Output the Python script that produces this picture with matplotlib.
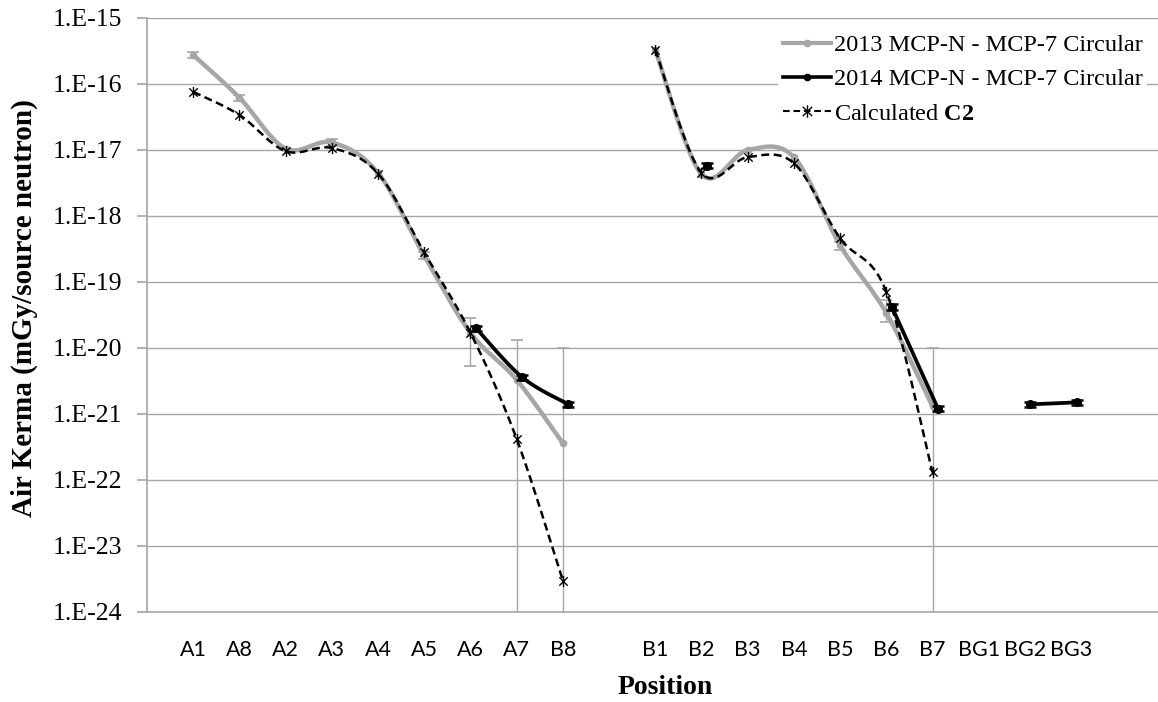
import numpy as np
import matplotlib
matplotlib.use('Agg')
import matplotlib.pyplot as plt
from matplotlib.path import Path

# positions along the category axis (blank slots separate the groups)
positions = ['', 'A1', 'A8', 'A2', 'A3', 'A4', 'A5', 'A6', 'A7', 'B8', '',
             'B1', 'B2', 'B3', 'B4', 'B5', 'B6', 'B7', 'BG1', 'BG2', 'BG3']

# air kerma, mGy per source neutron
mcp_2013 = [None, 2.75e-16, 6.2e-17, 1.05e-17, 1.3e-17, 4.5e-18, 2.5e-19, 1.7e-20, 3.3e-21, 3.6e-22, None,
            3.3e-16, 4.3e-18, 1.0e-17, 7.8e-18, 3.6e-19, 3.4e-20, 1.3e-21, None, None, None]
mcp_2013_lo = [None, 2.5e-16, 5.6e-17, None, 1.15e-17, None, 2.2e-19, 5.4e-21, 0, 0, None,
               None, None, None, None, 3.1e-19, 2.5e-20, 0, None, None, None]
mcp_2013_hi = [None, 3.05e-16, 6.8e-17, None, 1.45e-17, None, 2.8e-19, 2.8e-20, 1.3e-20, 1.0e-20, None,
               None, None, None, None, 4.1e-19, 5.4e-20, 1.0e-20, None, None, None]

mcp_2014 = [None, None, None, None, None, None, None, 2.0e-20, 3.6e-21, 1.4e-21, None,
            None, 5.8e-18, None, None, None, 4.2e-20, 1.2e-21, None, 1.4e-21, 1.5e-21]
mcp_2014_err = 0.09  # relative

calc_c2 = [None, 7.6e-17, 3.4e-17, 9.6e-18, 1.07e-17, 4.4e-18, 2.8e-19, 1.7e-20, 4.2e-22, 3.0e-24, None,
           3.3e-16, 4.5e-18, 7.8e-18, 6.3e-18, 4.6e-19, 7.1e-20, 1.3e-22, None, None, None]

ytick_vals = [10.0 ** e for e in range(-24, -14)]
ytick_labels = ['1.E%d' % e for e in range(-24, -14)]

GRAY = '#a6a6a6'
SERIF = 'Liberation Serif'
plt.rcParams['mathtext.fontset'] = 'custom'
plt.rcParams['mathtext.bf'] = 'Liberation Serif:bold'
plt.rcParams['mathtext.rm'] = 'Liberation Serif'


def runs(vals, offset=0.0):
    """Split a list with gaps into contiguous (x, y) runs."""
    out, cur = [], []
    for i, v in enumerate(vals):
        if v is None:
            if cur:
                out.append(cur)
            cur = []
        else:
            cur.append((i + offset, v))
    if cur:
        out.append(cur)
    return out


def smooth(run, n=24):
    """Bezier smoothing like a spreadsheet 'smoothed line', done in log space."""
    x = np.array([p[0] for p in run], float)
    y = np.log10([p[1] for p in run])
    if len(x) < 2:
        return x, 10 ** y
    px, py = [x[0]], [y[0]]
    t = np.linspace(0, 1, n)[1:]
    for i in range(len(x) - 1):
        i0 = max(i - 1, 0)
        i3 = min(i + 2, len(x) - 1)
        c1x = x[i] + (x[i + 1] - x[i0]) / 6
        c1y = y[i] + (y[i + 1] - y[i0]) / 6
        c2x = x[i + 1] - (x[i3] - x[i]) / 6
        c2y = y[i + 1] - (y[i3] - y[i]) / 6
        bx = (1 - t) ** 3 * x[i] + 3 * (1 - t) ** 2 * t * c1x + 3 * (1 - t) * t ** 2 * c2x + t ** 3 * x[i + 1]
        by = (1 - t) ** 3 * y[i] + 3 * (1 - t) ** 2 * t * c1y + 3 * (1 - t) * t ** 2 * c2y + t ** 3 * y[i + 1]
        px.extend(bx)
        py.extend(by)
    return np.array(px), 10 ** np.array(py)


star = Path([(0, -1), (0, 1), (-0.75, -0.75), (0.75, 0.75), (-0.75, 0.75), (0.75, -0.75)],
            [Path.MOVETO, Path.LINETO] * 3)

fig = plt.figure(figsize=(11.58, 7.02), dpi=100)
ax = fig.add_axes([147 / 1158, 90 / 702, 1011 / 1158, 594 / 702])
ax.set_yscale('log')
ax.set_ylim(1e-24, 1e-15)
ax.set_xlim(0, 21.88)

# horizontal grid
for v in ytick_vals[1:]:
    ax.axhline(v, color=GRAY, lw=1.0, zorder=0)

# 2013 error bars
ex, ey, elo, ehi = [], [], [], []
for i, v in enumerate(mcp_2013):
    if v is None or mcp_2013_hi[i] is None:
        continue
    lo = mcp_2013_lo[i] if mcp_2013_lo[i] else 1e-30
    ex.append(i)
    ey.append(v)
    elo.append(v - lo)
    ehi.append(mcp_2013_hi[i] - v)
ax.errorbar(ex, ey, yerr=[elo, ehi], fmt='none', ecolor=GRAY, elinewidth=1.0,
            capsize=4, capthick=1.2, zorder=1)

# 2013 measurement
for r in runs(mcp_2013):
    sx, sy = smooth(r)
    ax.plot(sx, sy, color=GRAY, lw=3.2, solid_capstyle='round', zorder=2)
    ax.plot([p[0] for p in r], [p[1] for p in r], 'o', color=GRAY, ms=4.5, zorder=2)

# 2014 measurement, drawn slightly right of the category centre
off = 0.12
bx = [i + off for i, v in enumerate(mcp_2014) if v is not None]
by = [v for v in mcp_2014 if v is not None]
ax.errorbar(bx, by, yerr=[[v * mcp_2014_err for v in by], [v * mcp_2014_err for v in by]],
            fmt='none', ecolor='black', elinewidth=1.5, capsize=4, capthick=1.8, zorder=3)
for r in runs(mcp_2014, off):
    sx, sy = smooth(r)
    ax.plot(sx, sy, color='black', lw=2.7, zorder=3)
    ax.plot([p[0] for p in r], [p[1] for p in r], 'o', color='black', ms=5.5, zorder=3)

# calculated C2
for r in runs(calc_c2):
    sx, sy = smooth(r)
    ax.plot(sx, sy, color='black', lw=1.8, dashes=(3.2, 1.8), zorder=4)
    ax.plot([p[0] for p in r], [p[1] for p in r], ls='none', marker=star, color='black',
            mfc='none', mec='black', mew=1.0, ms=8, zorder=4)

# legend handles
h1, = ax.plot([], [], color=GRAY, lw=3.0, marker='o', ms=4.5)
h2, = ax.plot([], [], color='black', lw=2.6, marker='o', ms=4.5)
h3, = ax.plot([], [], color='black', lw=1.5, dashes=(3.2, 1.8), marker=star, mfc='none', mec='black', mew=1.0, ms=9)
leg = fig.legend([h1, h2, h3],
                 ['2013 MCP-N - MCP-7 Circular', '2014 MCP-N - MCP-7 Circular', r'Calculated $\mathbf{C2}$'],
                 loc='upper right', bbox_to_anchor=(0.995, 0.965), frameon=True, fancybox=False,
                 framealpha=1, edgecolor='none', facecolor='white', borderpad=0.2,
                 handlelength=2.0, handletextpad=0.1, labelspacing=0.5, borderaxespad=0.2,
                 prop={'family': SERIF, 'size': 17.5})
leg.set_zorder(5)

# axes styling
for s in ['top', 'right']:
    ax.spines[s].set_visible(False)
for s in ['left', 'bottom']:
    ax.spines[s].set_color(GRAY)
    ax.spines[s].set_linewidth(1.2)

ax.set_yticks(ytick_vals)
ax.set_yticklabels(ytick_labels, family=SERIF, fontsize=18.5)
ax.yaxis.set_minor_locator(matplotlib.ticker.NullLocator())
ax.tick_params(axis='y', which='major', length=7, width=1.2, color=GRAY, pad=11)

ax.set_xticks(range(len(positions)))
ax.set_xticklabels(positions, family='Lato', fontsize=15.5)
ax.set_xticks(range(0, len(positions), 2), minor=True)
ax.tick_params(axis='x', which='major', length=0, pad=20)
ax.tick_params(axis='x', which='minor', length=7, width=1.2, color=GRAY)

fig.text(665 / 1158, 1 - 687 / 702, 'Position', family=SERIF, fontsize=20, fontweight='bold',
         ha='center', va='center')
fig.text(24 / 1158, 1 - 308 / 702, 'Air Kerma (mGy/source neutron)', family=SERIF, fontsize=21,
         fontweight='bold', ha='center', va='center', rotation=90)

fig.savefig('out.png', dpi=100)
